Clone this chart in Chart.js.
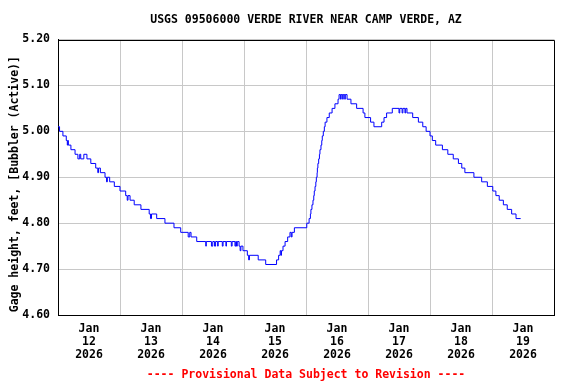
<!DOCTYPE html>
<html>
<head>
<meta charset="utf-8">
<script src="https://cdn.jsdelivr.net/npm/chart.js@4/dist/chart.umd.min.js"></script>
<style>
html,body{margin:0;padding:0;background:#fff;}
#wrap{width:576px;height:384px;position:relative;}
</style>
</head>
<body>
<div id="wrap"><canvas id="c" width="576" height="384"></canvas></div>
<script>
// Hours since Jan 12 2026 00:00 at which the gage value changes, and the value from then on
const hours = [0,0.6,1.9,3.2,3.6,3.8,4.0,5.0,6.6,7.7,8.4,8.8,10.0,11.2,12.7,14.6,15.4,15.7,16.4,18.2,18.8,19.1,20.0,21.8,24.0,26.2,26.8,27.1,27.9,29.5,32.1,35.3,35.8,36.2,38.2,41.4,44.9,47.5,50.4,51.0,51.5,53.7,57.2,57.4,59.4,59.9,60.6,61.0,61.8,62.0,63.6,63.9,65.0,65.2,67.1,67.4,68.5,68.8,69.1,69.4,70.1,70.5,70.8,71.6,73.3,73.8,74.1,77.5,80.4,84.6,85.4,86.0,86.3,86.5,87.1,87.9,88.9,89.8,90.3,90.6,91.5,96.3,97.2,97.7,97.9,98.3,98.7,99.0,99.2,99.5,99.8,100.0,100.3,100.4,100.6,100.9,101.2,101.4,101.8,102.1,102.3,102.7,103.1,103.4,104.1,105.0,106.1,107.2,108.4,108.8,109.4,109.6,110.2,110.4,111.0,111.2,111.9,113.4,115.6,118.1,118.8,121.0,122.3,125.3,126.2,127.2,129.4,132.0,132.3,133.2,133.5,134.3,134.6,135.1,137.3,139.5,141.2,142.5,144.0,144.9,146.2,148.8,150.9,153.0,155.0,156.3,157.5,161.0,164.0,166.2,168.3,169.5,170.8,172.4,173.9,175.6,177.3,179.1];
const gageHeight = [5.01,5.00,4.99,4.98,4.97,4.98,4.97,4.96,4.95,4.94,4.95,4.94,4.95,4.94,4.93,4.92,4.91,4.92,4.91,4.90,4.89,4.90,4.89,4.88,4.87,4.86,4.85,4.86,4.85,4.84,4.83,4.82,4.81,4.82,4.81,4.80,4.79,4.78,4.77,4.78,4.77,4.76,4.75,4.76,4.75,4.76,4.75,4.76,4.75,4.76,4.75,4.76,4.75,4.76,4.75,4.76,4.75,4.76,4.75,4.76,4.75,4.74,4.75,4.74,4.73,4.72,4.73,4.72,4.71,4.72,4.73,4.74,4.73,4.74,4.75,4.76,4.77,4.78,4.77,4.78,4.79,4.80,4.81,4.82,4.83,4.84,4.85,4.86,4.87,4.88,4.89,4.90,4.91,4.92,4.93,4.94,4.95,4.96,4.97,4.98,4.99,5.00,5.01,5.02,5.03,5.04,5.05,5.06,5.07,5.08,5.07,5.08,5.07,5.08,5.07,5.08,5.07,5.06,5.05,5.04,5.03,5.02,5.01,5.02,5.03,5.04,5.05,5.04,5.05,5.04,5.05,5.04,5.05,5.04,5.03,5.02,5.01,5.00,4.99,4.98,4.97,4.96,4.95,4.94,4.93,4.92,4.91,4.90,4.89,4.88,4.87,4.86,4.85,4.84,4.83,4.82,4.81,4.81];

const dayLabels = ['12','13','14','15','16','17','18','19'];
const monthLabel = 'Jan';
const yearLabel = '2026';
const yTicks = [4.60,4.70,4.80,4.90,5.00,5.10,5.20];
const titleText = 'USGS 09506000 VERDE RIVER NEAR CAMP VERDE, AZ';
const footerText = '---- Provisional Data Subject to Revision ----';
const yTitle = 'Gage height, feet, [Bubbler (Active)]  ';

const FONT = 'DejaVu Sans Mono';
Chart.defaults.font.family = FONT;
Chart.defaults.font.size = 11.5;
Chart.defaults.font.weight = 'bold';
Chart.defaults.color = '#000';

const points = hours.map((h, i) => ({x: h, y: gageHeight[i]}));

const framePlugin = {
  id: 'frame',
  afterDraw(chart) {
    const {ctx, chartArea: a} = chart;
    ctx.save();
    ctx.strokeStyle = '#000';
    ctx.lineWidth = 1;
    ctx.beginPath();
    ctx.moveTo(Math.round(a.left) + 0.5, Math.round(a.top) + 0.5);
    ctx.lineTo(Math.round(a.right) + 0.5, Math.round(a.top) + 0.5);
    ctx.lineTo(Math.round(a.right) + 0.5, Math.round(a.bottom) + 0.5);
    ctx.stroke();
    const cx = (a.left + a.right) / 2;
    ctx.font = 'bold 11.5px "' + FONT + '"';
    ctx.textAlign = 'center';
    ctx.textBaseline = 'middle';
    ctx.fillStyle = '#000';
    ctx.fillText(titleText, cx, 20);
    ctx.fillStyle = '#ff0000';
    ctx.fillText(footerText, cx, 375);
    ctx.restore();
  }
};

new Chart(document.getElementById('c'), {
  type: 'line',
  data: {
    datasets: [{
      data: points,
      borderColor: '#0000ff',
      borderWidth: 1,
      pointRadius: 0,
      stepped: true,
      fill: false,
      tension: 0
    }]
  },
  options: {
    responsive: false,
    animation: false,
    layout: {padding: {top: 39.5, right: 22, left: 0, bottom: 0}},
    plugins: {legend: {display: false}, tooltip: {enabled: false}, title: {display: false}},
    scales: {
      x: {
        type: 'linear',
        min: 0,
        max: 192,
        afterBuildTicks(scale) {
          const t = [];
          for (let h = 0; h <= 192; h += 12) t.push({value: h});
          scale.ticks = t;
        },
        afterFit(scale) { scale.height = 69; },
        ticks: {
          autoSkip: false,
          maxRotation: 0,
          minRotation: 0,
          padding: 8,
          font: {size: 11.5, lineHeight: '13px'},
          callback(value) {
            if (value % 24 === 12) {
              const d = Math.floor(value / 24);
              return [monthLabel, dayLabels[d], yearLabel];
            }
            return '';
          }
        },
        grid: {
          drawTicks: false,
          color(ctx) {
            return (ctx.tick && ctx.tick.value % 24 === 0) ? '#c8c8c8' : 'rgba(0,0,0,0)';
          },
          lineWidth: 1
        },
        border: {color: '#000', width: 1}
      },
      y: {
        type: 'linear',
        min: 4.6,
        max: 5.2,
        afterBuildTicks(scale) { scale.ticks = yTicks.map(v => ({value: v})); },
        afterFit(scale) { scale.width = 58; },
        ticks: {
          padding: 8,
          callback(value) { return Number(value).toFixed(2); }
        },
        grid: {drawTicks: false, color: '#c8c8c8', lineWidth: 1},
        border: {color: '#000', width: 1},
        title: {
          display: true,
          text: yTitle,
          color: '#000',
          font: {size: 11.5, weight: 'bold'},
          padding: {top: 8, bottom: 0}
        }
      }
    }
  },
  plugins: [framePlugin]
});
</script>
</body>
</html>
